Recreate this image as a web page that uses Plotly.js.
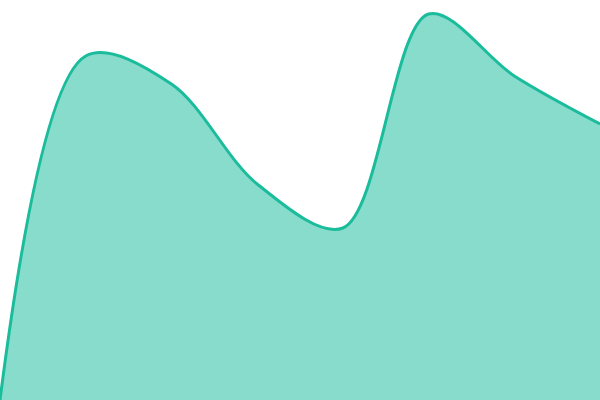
<!DOCTYPE html>
<html>
<head>
<meta charset="utf-8">
<script src="https://cdn.plot.ly/plotly-3.0.1.min.js"></script>
<style>
  html, body { margin: 0; padding: 0; background: #fff; }
  #graph { width: 600px; height: 400px; }
</style>
</head>
<body>
<div id="graph"></div>
<script>
// eight evenly spaced samples
var xValues = [0, 1, 2, 3, 4, 5, 6, 7];
var yValues = [0, 86, 79, 54, 43, 96.5, 81, 69];

var area = {
    x: xValues,
    y: yValues,
    mode: 'lines',
    fill: 'tozeroy',
    fillcolor: 'rgba(26,188,156,0.52)',
    line: {
        color: '#1abc9c',
        width: 3,
        shape: 'spline',
        smoothing: 0.95
    },
    hoverinfo: 'skip'
};

var layout = {
    width: 600,
    height: 400,
    margin: {l: 0, r: 0, t: 0, b: 0},
    showlegend: false,
    paper_bgcolor: '#ffffff',
    plot_bgcolor: '#ffffff',
    xaxis: {
        range: [0, 7],
        visible: false,
        fixedrange: true
    },
    yaxis: {
        range: [0, 100],
        visible: false,
        fixedrange: true
    }
};

Plotly.newPlot('graph', [area], layout, {staticPlot: true, displayModeBar: false});
</script>
</body>
</html>
